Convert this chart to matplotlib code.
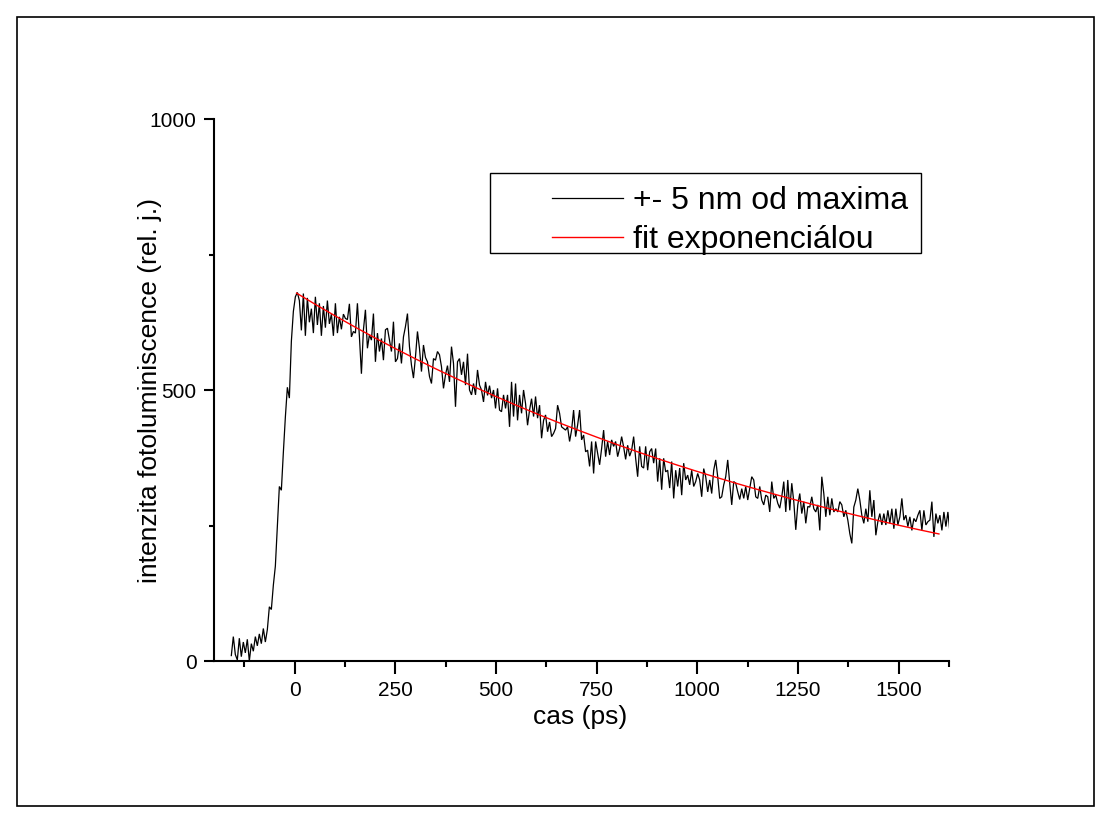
import matplotlib
matplotlib.use("Agg")
import numpy as np
import matplotlib.pyplot as plt
from matplotlib.patches import Rectangle
from matplotlib.lines import Line2D
from matplotlib.ticker import MultipleLocator

plt.rcParams['font.family'] = ['Liberation Sans', 'DejaVu Sans']

# Time axis of the measured trace: first sample and sampling step (ps)
t_start = -157.0
t_step = 4.97

# Photoluminescence intensity (rel. units), one value per sample
pl_intensity = [
    10, 45, 12, 2, 42, 8, 35, 15, 40, 0,
    32, 18, 45, 28, 50, 32, 60, 35, 58, 100,
    95, 140, 175, 250, 322, 315, 385, 450, 505, 485,
    590, 645, 672, 680, 665, 610, 678, 600, 670, 625,
    650, 605, 672, 620, 660, 600, 655, 615, 665, 622,
    640, 600, 660, 605, 635, 612, 640,
    632, 630, 659, 598, 608, 605, 660, 598, 530, 611,
    648, 577, 602, 592, 641, 552, 605, 571, 595, 555,
    611, 614, 592, 571, 626, 552, 558, 586, 549, 598,
    617, 641, 580, 546, 522, 561, 608, 577, 534, 583,
    560, 552, 525, 512, 558, 555, 571, 565, 543, 503,
    528, 545, 515, 580, 549, 469, 552, 558, 528, 552,
    509, 567, 500, 491, 512, 491, 537, 509, 500, 478,
    515, 490, 508, 485, 500, 466, 503, 463, 460, 491,
    466, 491, 432, 515, 451, 512, 444, 491, 457, 500,
    475, 435, 463, 484, 451, 488, 448, 472, 411, 444,
    454, 423, 441, 414, 420, 429, 472, 457, 432, 429,
    426, 432, 405, 426, 463, 414, 435,
    463, 408, 417, 386, 389, 359, 405, 346, 405, 383,
    362, 392, 426, 377, 405, 380, 408, 396, 405, 377,
    392, 414, 395, 372, 398, 378, 389, 414, 374, 340,
    396, 359, 356, 396, 352, 386, 392, 365, 392, 331,
    374, 316, 374, 349, 352, 319, 368, 300, 352, 322,
    356, 306, 365, 334, 343, 325, 352, 322,
    331, 346, 334, 303, 355, 340, 312, 334, 309, 352,
    371, 340, 300, 303, 325, 340, 371, 328, 288, 331,
    328, 312, 298, 318, 300, 322, 297, 318, 340, 334,
    303, 300, 322, 297, 288, 306, 303, 275, 331, 300,
    306, 291, 282, 303, 331, 275, 334, 278, 328, 294,
    242, 288, 309, 272, 294, 254, 285,
    284, 303, 281, 275, 288, 241, 340, 309, 266, 303,
    269, 300, 275, 281, 275, 294, 288, 266, 278, 260,
    235, 217, 284, 297, 318, 297, 269, 254, 281, 257,
    315, 266, 297, 232, 257, 272, 251, 272, 251, 278,
    254, 281, 244, 281, 251, 266, 300, 260, 269, 248,
    266, 241, 263, 257, 269, 278, 241, 278, 251, 257,
    260, 294, 229, 272, 254, 269, 241, 275, 248, 275,
    238, 278,
]

# Exponential fit of the decay, sampled along the time axis
fit_time = [5, 50, 100, 150, 200, 250, 300, 350, 400, 450, 500, 550,
            600, 650, 700, 750, 800, 850, 900, 950, 1000, 1050, 1100,
            1150, 1200, 1250, 1300, 1350, 1400, 1450, 1500, 1550, 1600]
fit_intensity = [678.7, 658.7, 637.1, 616.2, 596.0, 576.5, 557.6, 539.3,
                 521.6, 504.5, 488.0, 472.0, 456.5, 441.5, 427.1, 413.1,
                 399.5, 386.4, 373.7, 361.5, 349.7, 338.2, 327.1, 316.4,
                 306.0, 296.0, 286.3, 276.9, 267.8, 259.0, 250.5, 242.3,
                 234.4]

x_ticks = [0, 250, 500, 750, 1000, 1250, 1500]
y_ticks = [0, 500, 1000]
series_labels = ['+- 5 nm od maxima', 'fit exponenciálou']
x_label = 'cas (ps)'
y_label = 'intenzita fotoluminiscence (rel. j.)'

W, H = 1111, 821
fig = plt.figure(figsize=(W / 100, H / 100), dpi=100)
fig.patch.set_facecolor('white')


def fx(px):
    return px / W


def fy(py):
    return 1 - py / H


ax = fig.add_axes([fx(214), fy(661), fx(949) - fx(214), fy(119) - fy(661)])

time = t_start + t_step * np.arange(len(pl_intensity))
ax.plot(time, pl_intensity, color='black', lw=0.9, solid_joinstyle='miter')
ax.plot(fit_time, fit_intensity, color='#ff0000', lw=1.0)

ax.set_xlim(-200, 1625)
ax.set_ylim(0, 1000)
ax.set_xticks(x_ticks)
ax.set_yticks(y_ticks)
ax.xaxis.set_minor_locator(MultipleLocator(125))
ax.yaxis.set_minor_locator(MultipleLocator(250))

for side in ('top', 'right'):
    ax.spines[side].set_visible(False)
for side in ('left', 'bottom'):
    ax.spines[side].set_linewidth(1.5)

ax.tick_params(axis='x', which='major', direction='out', length=9, width=1.5,
               labelsize=15, pad=5.5)
ax.tick_params(axis='x', which='minor', direction='out', length=4.5, width=1.5)
ax.tick_params(axis='y', which='major', direction='out', length=7.5, width=1.5,
               labelsize=15, pad=5)
ax.tick_params(axis='y', which='minor', direction='out', length=3.5, width=1.5)

ax.set_xlabel(x_label, fontsize=19)
ax.set_ylabel(y_label, fontsize=19)
ax.xaxis.set_label_coords((580 - 214) / 735, (661 - 717) / 542)
ax.xaxis.label.set_va('center')
ax.yaxis.set_label_coords((150 - 214) / 735, (661 - 390) / 542)
ax.yaxis.label.set_va('center')

# Legend entries with a plain rectangular frame
handles = [Line2D([], [], color='black', lw=0.9),
           Line2D([], [], color='#ff0000', lw=1.0)]
fs_leg = 23
leg = ax.legend(handles, series_labels, loc='upper left',
                bbox_to_anchor=(fx(552), fy(186)), bbox_transform=fig.transFigure,
                frameon=False, fontsize=fs_leg, handlelength=2.22,
                handletextpad=0.31, labelspacing=0.28, borderpad=0,
                borderaxespad=0)
fig.add_artist(Rectangle((fx(490), fy(253)), fx(921) - fx(490), fy(173) - fy(253),
                         transform=fig.transFigure, fill=False,
                         edgecolor='black', lw=1.0))

# Outer frame around the figure
fig.add_artist(Rectangle((fx(17), fy(806)), fx(1094) - fx(17), fy(17) - fy(806),
                         transform=fig.transFigure, fill=False,
                         edgecolor='black', lw=1.2))

fig.savefig('out.png', dpi=100, facecolor='white')
